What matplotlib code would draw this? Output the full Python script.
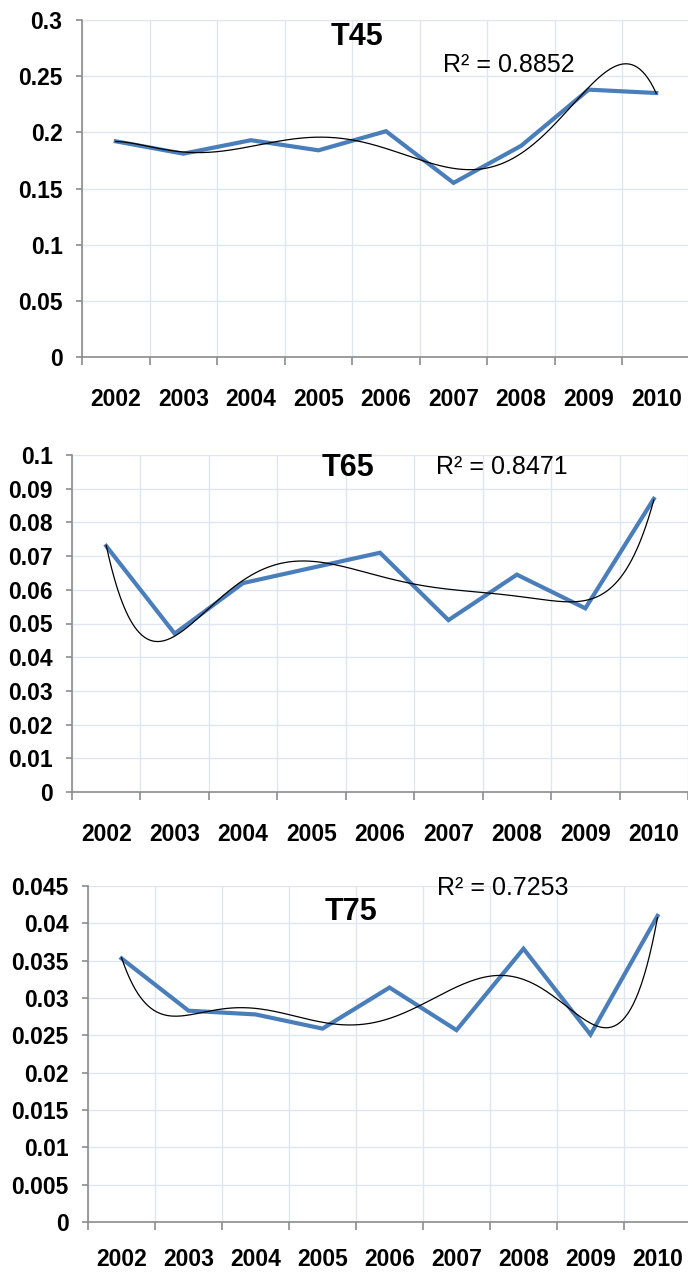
import numpy as np
import matplotlib
matplotlib.use("Agg")
import matplotlib.pyplot as plt
from matplotlib.ticker import FixedLocator, FuncFormatter

years = ["2002", "2003", "2004", "2005", "2006", "2007", "2008", "2009", "2010"]
t45 = [0.192, 0.181, 0.193, 0.184, 0.201, 0.155, 0.188, 0.238, 0.235]
t65 = [0.073, 0.047, 0.062, 0.0665, 0.071, 0.051, 0.0645, 0.0545, 0.087]
t75 = [0.0353, 0.0283, 0.0278, 0.0259, 0.0314, 0.0257, 0.0366, 0.0251, 0.041]
titles = ["T45", "T65", "T75"]
r2_labels = ["0.8852", "0.8471", "0.7253"]
yticks45 = [0, 0.05, 0.1, 0.15, 0.2, 0.25, 0.3]
yticks65 = [0, 0.01, 0.02, 0.03, 0.04, 0.05, 0.06, 0.07, 0.08, 0.09, 0.1]
yticks75 = [0, 0.005, 0.01, 0.015, 0.02, 0.025, 0.03, 0.035, 0.04, 0.045]

W, H = 688, 1273
fig = plt.figure(figsize=(W / 100, H / 100), dpi=100)
FONT = "Liberation Sans"

panels = [
    dict(l=82, t=20, b=357, r=690, data=t45, yt=yticks45, title=(357, 37), r2=(443, 65), xpad=22),
    dict(l=72, t=455, b=792, r=688, data=t65, yt=yticks65, title=(348, 468), r2=(436, 467), xpad=22),
    dict(l=88, t=886, b=1222, r=691, data=t75, yt=yticks75, title=(351, 912), r2=(437, 888), xpad=19),
]

blue = "#4a7ebb"
grid_c = "#dde6f1"
axis_c = "#8c8c8c"

def fmt(v, pos):
    if v == 0:
        return "0"
    return ("%.3f" % v).rstrip("0").rstrip(".")

for i, p in enumerate(panels):
    ax = fig.add_axes([p["l"] / W, 1 - p["b"] / H, (p["r"] - p["l"]) / W, (p["b"] - p["t"]) / H])
    x = np.arange(len(years))
    y = np.array(p["data"])
    # Excel-like 6th order polynomial trendline on x = 1..9
    xf = x + 1.0
    coef = np.polyfit(xf, y, 6)
    xs = np.linspace(1, 9, 400)
    ax.plot(xs - 1, np.polyval(coef, xs), color="black", lw=0.9, zorder=4)
    ax.plot(x, y, color=blue, lw=3.0, solid_joinstyle="miter", zorder=3)

    ax.set_xlim(-0.5, len(years) - 0.5)
    ax.set_ylim(p["yt"][0], p["yt"][-1])
    ax.yaxis.set_major_locator(FixedLocator(p["yt"]))
    ax.yaxis.set_major_formatter(FuncFormatter(fmt))
    ax.set_xticks(x)
    ax.set_xticklabels(years)
    ax.set_xticks(np.arange(-0.5, len(years) + 0.5, 1), minor=True)

    ax.grid(True, which="major", axis="y", color=grid_c, lw=1.0, zorder=0)
    ax.grid(True, which="minor", axis="x", color=grid_c, lw=1.0, zorder=0)
    ax.set_axisbelow(True)

    for s in ["top", "right"]:
        ax.spines[s].set_visible(False)
    for s in ["left", "bottom"]:
        ax.spines[s].set_color(axis_c)
        ax.spines[s].set_linewidth(1.2)

    ax.tick_params(axis="x", which="major", length=0, pad=p["xpad"])
    ax.tick_params(axis="x", which="minor", length=6, width=1.2, color=axis_c, direction="out")
    ax.tick_params(axis="y", which="major", length=4, width=1.2, color=axis_c, direction="out", pad=10)
    for lab in ax.get_xticklabels() + ax.get_yticklabels():
        lab.set_fontfamily(FONT)
        lab.set_fontweight("bold")
        lab.set_fontsize(16.5)
        lab.set_color("black")

    tx, ty = p["title"]
    fig.text(tx / W, 1 - ty / H, titles[i], ha="center", va="center",
             fontsize=22, fontweight="bold", family=FONT)
    rx, ry = p["r2"]
    fig.text(rx / W, 1 - ry / H, "R\u00b2 = " + r2_labels[i], ha="left", va="center",
             fontsize=18, family=FONT)

fig.savefig("out.png", dpi=100)
